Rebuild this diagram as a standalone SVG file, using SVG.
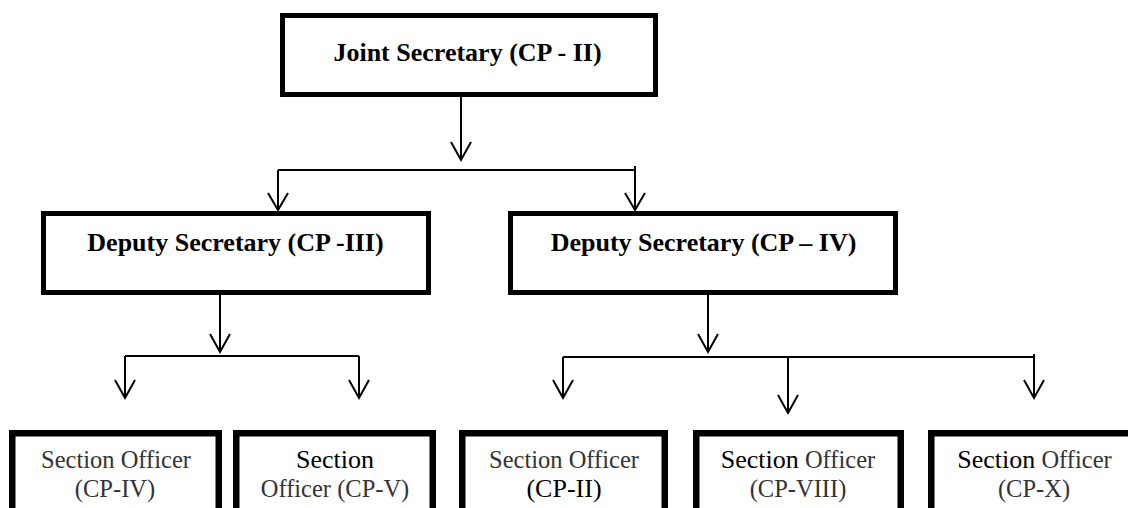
<svg xmlns="http://www.w3.org/2000/svg" width="1128" height="508" viewBox="0 0 1128 508">
  <style>
    .box { fill: #ffffff; stroke: #000000; stroke-width: 5; }
    .sbox { fill: #ffffff; stroke: #000000; stroke-width: 6.5; }
    .head { font-weight: bold; font-size: 26px; fill: #000000; text-anchor: middle; }
    .soft { font-size: 24.5px; fill: #333333; text-anchor: middle; }
    .dark { font-size: 26px; fill: #000000; }
    .soft2 { font-size: 24.5px; fill: #333333; }
    .wire { fill: none; stroke: #000000; stroke-width: 2; stroke-linejoin: miter; }
  </style>
  <rect width="1128" height="508" fill="#ffffff"/>

  <!-- connectors: stems, bus lines and open arrowheads -->
  <g id="connectors" class="wire">
    <!-- joint secretary to deputies -->
    <path d="M461 97 V160 M451 142 L461 160 L471 142"/>
    <path d="M278 170 H635 M635 166 V170"/>
    <path d="M278 170 V210 M268 193 L278 210 L288 193"/>
    <path d="M635 170 V210 M625 193 L635 210 L645 193"/>
    <!-- deputy (CP -III) to section officers -->
    <path d="M220 295 V352 M210 334 L220 352 L230 334"/>
    <path d="M125 356 H359"/>
    <path d="M125 356 V398 M115 380 L125 398 L135 380"/>
    <path d="M359 356 V398 M349 380 L359 398 L369 380"/>
    <!-- deputy (CP - IV) to section officers -->
    <path d="M708 295 V352 M698 334 L708 352 L718 334"/>
    <path d="M563 357 H1034 M1034 354 V357"/>
    <path d="M563 357 V398 M553 380 L563 398 L573 380"/>
    <path d="M788 357 V413 M778 395 L788 413 L798 395"/>
    <path d="M1034 357 V398 M1024 380 L1034 398 L1044 380"/>
  </g>

  <g font-family="'Liberation Serif', 'DejaVu Serif', serif">
  <g id="joint-secretary">
    <rect class="box" x="282.5" y="15.5" width="373" height="79"/>
    <text class="head" x="467.5" y="61">Joint Secretary (CP - II)</text>
  </g>

  <g id="deputy-secretary-cp3">
    <rect class="box" x="43.5" y="213.5" width="385" height="79"/>
    <text class="head" x="235.5" y="251">Deputy Secretary (CP -III)</text>
  </g>

  <g id="deputy-secretary-cp4">
    <rect class="box" x="510.5" y="213.5" width="385" height="79"/>
    <text class="head" x="703.5" y="251">Deputy Secretary (CP – IV)</text>
  </g>

  <g id="section-officer-cp4">
    <rect class="sbox" x="12.25" y="433.25" width="206.5" height="90"/>
    <text class="soft" x="116" y="468">Section Officer</text>
    <text class="soft" x="115" y="497">(CP-IV)</text>
  </g>

  <g id="section-officer-cp5">
    <rect class="sbox" x="236.25" y="433.25" width="196.5" height="90"/>
    <text class="dark" x="335" y="468" text-anchor="middle">Section</text>
    <text class="soft" x="335" y="497">Officer (CP-V)</text>
  </g>

  <g id="section-officer-cp2">
    <rect class="sbox" x="462.25" y="433.25" width="202.5" height="90"/>
    <text class="soft" x="564" y="468">Section Officer</text>
    <text class="dark" x="564" y="497" text-anchor="middle">(CP-II)</text>
  </g>

  <g id="section-officer-cp8">
    <rect class="sbox" x="696.25" y="433.25" width="204.5" height="90"/>
    <text x="798" y="468" text-anchor="middle"><tspan class="dark">Section</tspan><tspan class="soft2"> Officer</tspan></text>
    <text class="soft" x="798" y="497">(CP-VIII)</text>
  </g>

  <g id="section-officer-cp10">
    <rect class="sbox" x="931.25" y="433.25" width="212" height="90"/>
    <text x="1034.5" y="468" text-anchor="middle"><tspan class="dark">Section</tspan><tspan class="soft2"> Officer</tspan></text>
    <text class="soft" x="1034" y="497">(CP-X)</text>
  </g>
  </g>
</svg>
